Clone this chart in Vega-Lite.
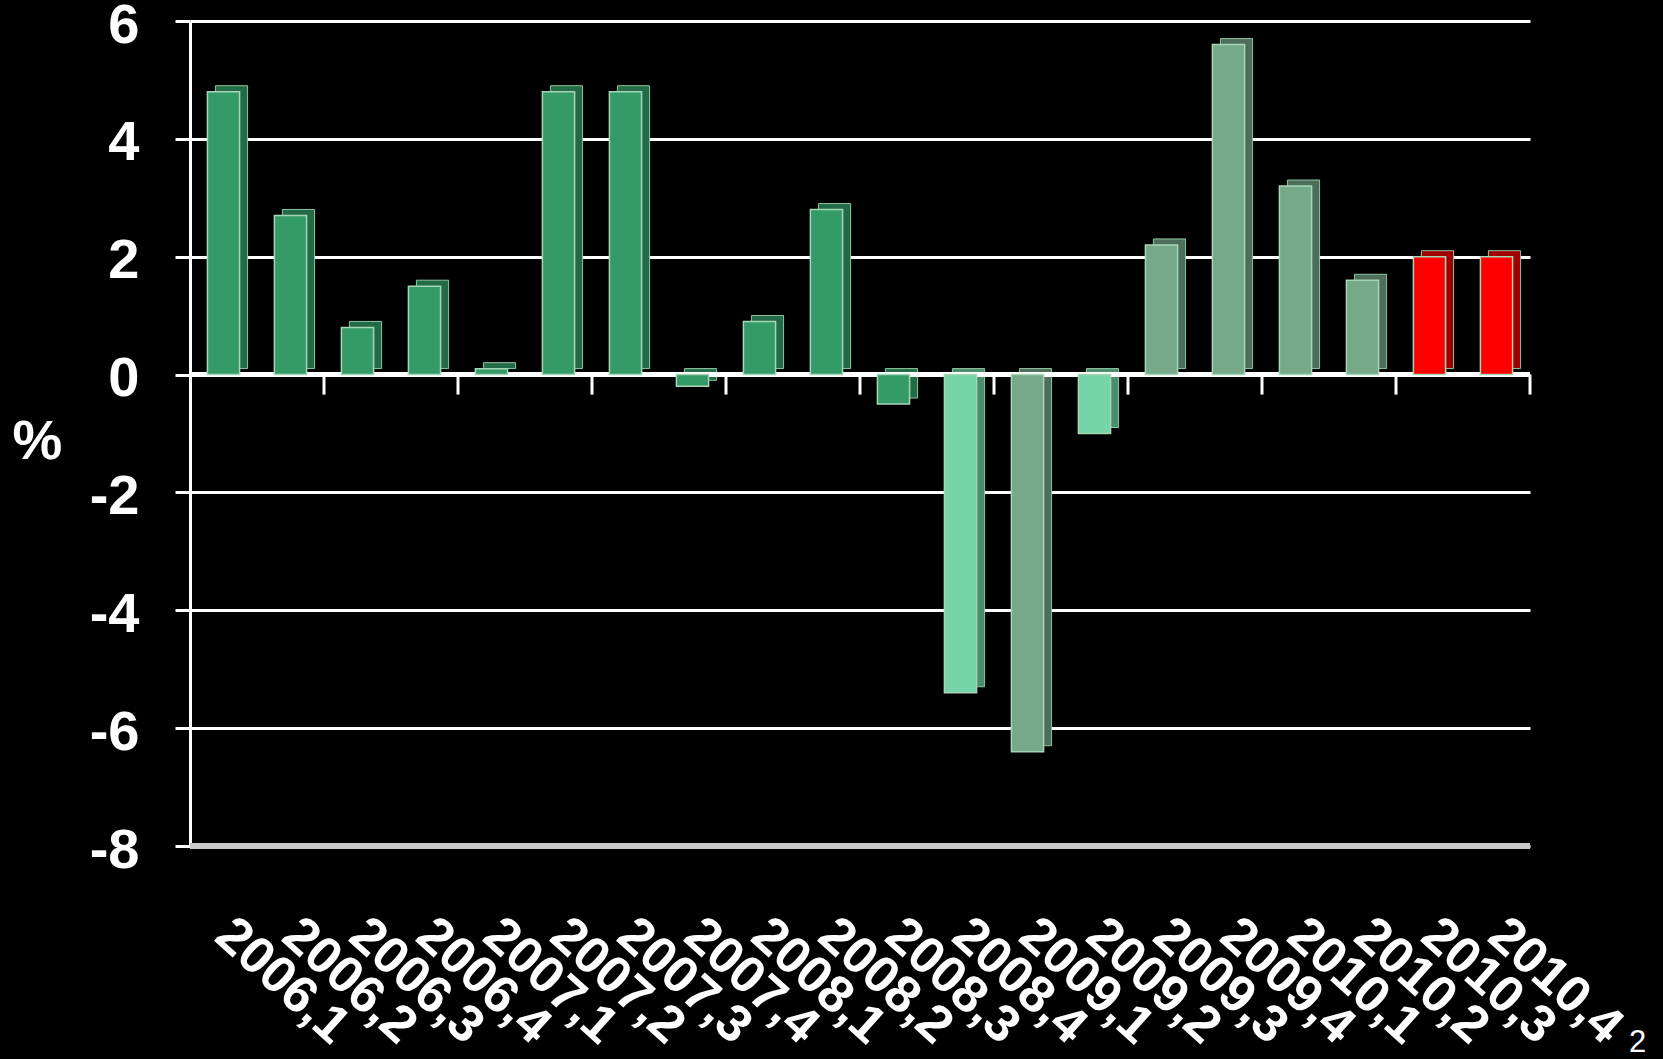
{
  "$schema": "https://vega.github.io/schema/vega-lite/v6.json",
  "background": "#000000",
  "width": 1340,
  "height": 825,
  "autosize": "none",
  "padding": {"left": 190, "top": 21, "right": 133, "bottom": 213},
  "config": {"view": {"stroke": null}},
  "data": {
    "values": [
      {"period": "2006,1", "value": 4.8, "shade": "dark"},
      {"period": "2006,2", "value": 2.7, "shade": "dark"},
      {"period": "2006,3", "value": 0.8, "shade": "dark"},
      {"period": "2006,4", "value": 1.5, "shade": "dark"},
      {"period": "2007,1", "value": 0.1, "shade": "dark"},
      {"period": "2007,2", "value": 4.8, "shade": "dark"},
      {"period": "2007,3", "value": 4.8, "shade": "dark"},
      {"period": "2007,4", "value": -0.2, "shade": "dark"},
      {"period": "2008,1", "value": 0.9, "shade": "dark"},
      {"period": "2008,2", "value": 2.8, "shade": "dark"},
      {"period": "2008,3", "value": -0.5, "shade": "dark"},
      {"period": "2008,4", "value": -5.4, "shade": "mint"},
      {"period": "2009,1", "value": -6.4, "shade": "sage"},
      {"period": "2009,2", "value": -1.0, "shade": "mint"},
      {"period": "2009,3", "value": 2.2, "shade": "sage"},
      {"period": "2009,4", "value": 5.6, "shade": "sage"},
      {"period": "2010,1", "value": 3.2, "shade": "sage"},
      {"period": "2010,2", "value": 1.6, "shade": "sage"},
      {"period": "2010,3", "value": 2.0, "shade": "forecast"},
      {"period": "2010,4", "value": 2.0, "shade": "forecast"}
    ]
  },
  "resolve": {"scale": {"color": "independent"}},
  "layer": [
    {
      "mark": {"type": "bar", "xOffset": 8, "yOffset": -6, "stroke": "#8fc4a4", "strokeWidth": 1},
      "encoding": {
        "x": {
          "field": "period", "type": "ordinal", "sort": null,
          "scale": {"paddingInner": 0.52},
          "axis": {
            "title": "2", "titleX": 1447, "titleY": 212, "titleAlign": "center", "titleBaseline": "bottom",
            "titleColor": "#ffffff", "titleFont": "Liberation Sans", "titleFontWeight": "normal", "titleFontSize": 31,
            "labelAngle": 42, "labelAlign": "left", "labelBaseline": "middle", "labelPadding": 81,
            "labelOverlap": false, "labelBound": false, "labelFlush": false,
            "labelColor": "#ffffff", "labelFont": "Liberation Sans", "labelFontWeight": "bold", "labelFontSize": 52,
            "domain": false, "ticks": false, "grid": false
          }
        },
        "y": {
          "field": "value", "type": "quantitative",
          "scale": {"domain": [-8, 6], "nice": false},
          "axis": {
            "title": "%", "titleAngle": 0, "titleX": -153, "titleY": 420, "titleAlign": "center", "titleBaseline": "middle",
            "titleColor": "#ffffff", "titleFont": "Liberation Sans", "titleFontWeight": "bold", "titleFontSize": 56,
            "values": [-8, -6, -4, -2, 0, 2, 4, 6],
            "labelExpr": "'' + datum.value",
            "labelColor": "#ffffff", "labelFont": "Liberation Sans", "labelFontWeight": "bold", "labelFontSize": 56,
            "labelPadding": 36, "labelOffset": 4,
            "domainColor": "#ffffff", "domainWidth": 3,
            "tickColor": "#ffffff", "tickWidth": 3, "tickSize": 15,
            "grid": true, "gridColor": "#ffffff", "gridWidth": 3, "gridOpacity": 1
          }
        },
        "color": {
          "field": "shade", "type": "nominal", "legend": null,
          "scale": {"domain": ["dark", "mint", "sage", "forecast"], "range": ["#226b46", "#4b8e6c", "#4d6e5a", "#a00000"]}
        }
      }
    },
    {
      "mark": {"type": "rule", "color": "#c8c8c8", "strokeWidth": 6},
      "encoding": {"y": {"datum": -8, "type": "quantitative"}}
    },
    {
      "mark": {"type": "rule", "color": "#ffffff", "strokeWidth": 5},
      "encoding": {"y": {"datum": 0, "type": "quantitative"}}
    },
    {
      "mark": {"type": "rule", "color": "#ffffff", "strokeWidth": 3},
      "encoding": {
        "x": {"field": "period", "type": "ordinal", "sort": null, "bandPosition": 1.5417},
        "y": {"datum": 0, "type": "quantitative"},
        "y2": {"datum": -0.34},
        "strokeOpacity": {"condition": {"test": "test(regexp('[24]$'), datum.period)", "value": 1}, "value": 0}
      }
    },
    {
      "mark": {"type": "bar", "stroke": "#a6d6b8", "strokeWidth": 1.5},
      "encoding": {
        "x": {"field": "period", "type": "ordinal", "sort": null},
        "y": {"field": "value", "type": "quantitative"},
        "color": {
          "field": "shade", "type": "nominal", "legend": null,
          "scale": {"domain": ["dark", "mint", "sage", "forecast"], "range": ["#349b68", "#76d4a6", "#76a88a", "#ff0000"]}
        }
      }
    }
  ]
}
